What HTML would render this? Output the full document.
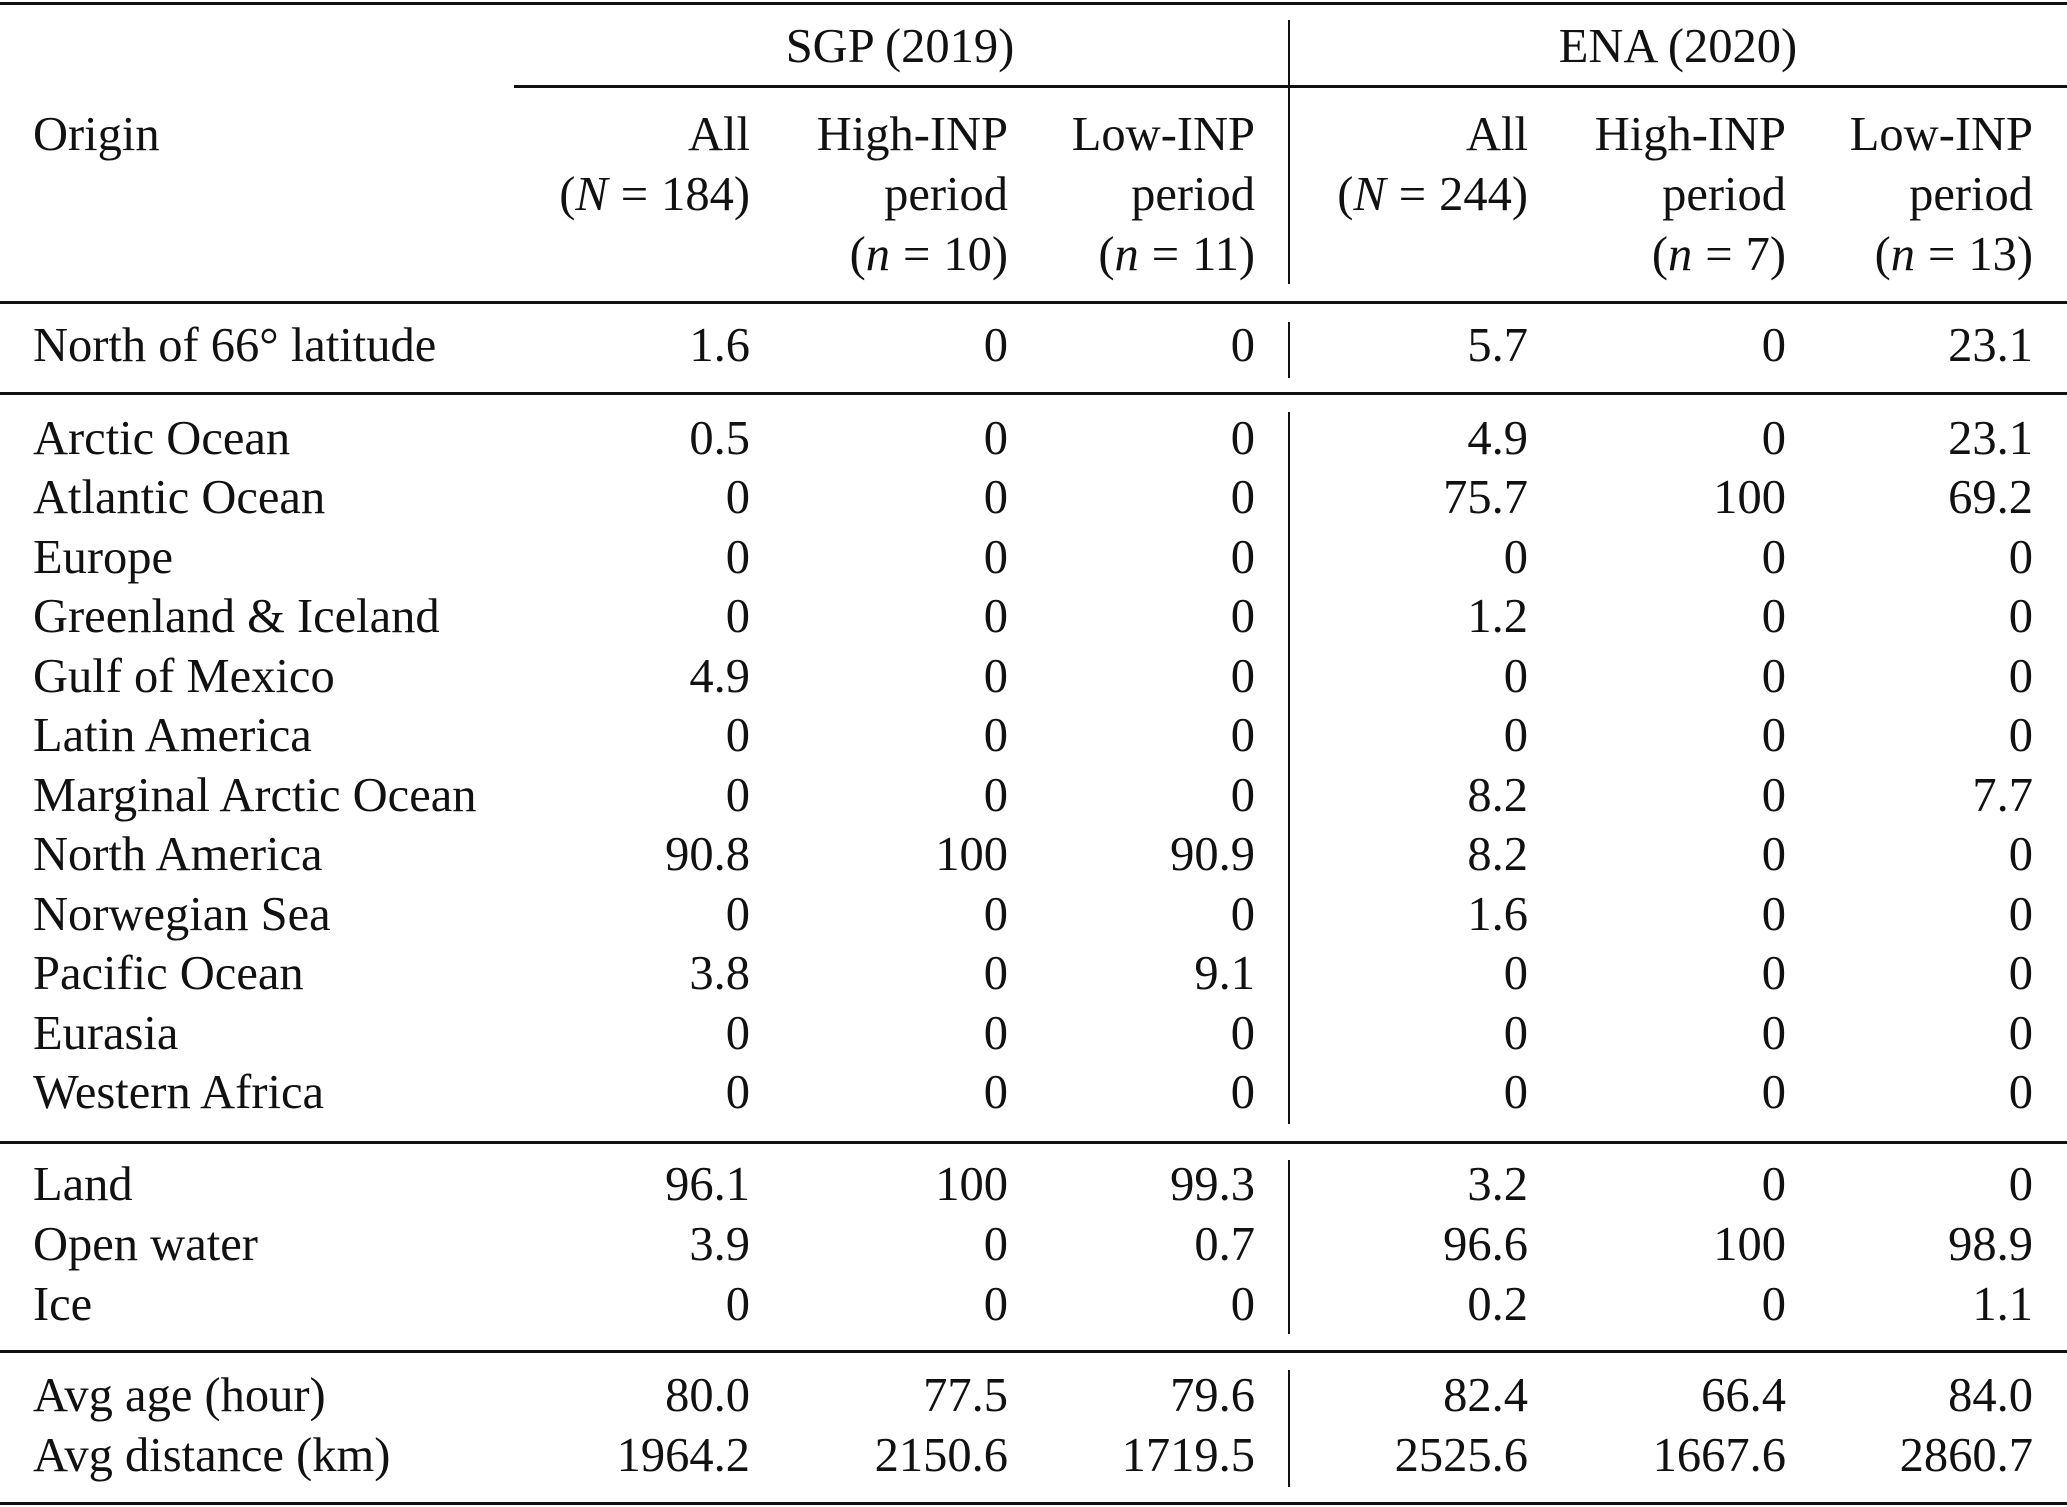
<!DOCTYPE html>
<html><head><meta charset="utf-8"><style>
html,body{margin:0;padding:0;background:#fff;}
#t{position:relative;width:2067px;height:1507px;overflow:hidden;font-family:"Liberation Serif","DejaVu Serif",serif;font-size:48.5px;color:#111;}
.tx{position:absolute;white-space:nowrap;line-height:1;}
.r{transform:translateX(-100%);}
.c{transform:translateX(-50%);}
.hr{position:absolute;height:2.5px;background:#111;}
.vr{position:absolute;width:2px;background:#111;}
i{font-style:italic;}
.eq{padding:0 13px;}
</style></head><body>
<div id="t"></div>
<script>
const rowLabels=["North of 66° latitude","Arctic Ocean","Atlantic Ocean","Europe","Greenland & Iceland","Gulf of Mexico","Latin America","Marginal Arctic Ocean","North America","Norwegian Sea","Pacific Ocean","Eurasia","Western Africa","Land","Open water","Ice","Avg age (hour)","Avg distance (km)"];
const rowValues=[
["1.6","0","0","5.7","0","23.1"],
["0.5","0","0","4.9","0","23.1"],
["0","0","0","75.7","100","69.2"],
["0","0","0","0","0","0"],
["0","0","0","1.2","0","0"],
["4.9","0","0","0","0","0"],
["0","0","0","0","0","0"],
["0","0","0","8.2","0","7.7"],
["90.8","100","90.9","8.2","0","0"],
["0","0","0","1.6","0","0"],
["3.8","0","9.1","0","0","0"],
["0","0","0","0","0","0"],
["0","0","0","0","0","0"],
["96.1","100","99.3","3.2","0","0"],
["3.9","0","0.7","96.6","100","98.9"],
["0","0","0","0.2","0","1.1"],
["80.0","77.5","79.6","82.4","66.4","84.0"],
["1964.2","2150.6","1719.5","2525.6","1667.6","2860.7"]];
const rowY=[345,438,497,557,616,676,735,795,854,914,973,1033,1092,1184,1244,1304,1395,1455];
const colX=[750,1008,1255,1528,1786,2033];
const T=document.getElementById('t');
function tx(html,x,y,cls){const d=document.createElement('div');d.className='tx '+(cls||'');d.style.left=x+'px';d.style.top=(y-23)+'px';d.innerHTML=html;T.appendChild(d);return d;}
function hr(x1,x2,y){const d=document.createElement('div');d.className='hr';d.style.left=x1+'px';d.style.width=(x2-x1)+'px';d.style.top=(y-1)+'px';


T.appendChild(d);}
function vr(y1,y2){const d=document.createElement('div');d.className='vr';d.style.left='1288px';d.style.top=y1+'px';d.style.height=(y2-y1)+'px';


T.appendChild(d);}
hr(0,2067,3);hr(514,2067,86);hr(0,2067,302);hr(0,2067,393);hr(0,2067,1142);hr(0,2067,1351);hr(0,2067,1503);
vr(20,284);vr(322,378);vr(412,1124);vr(1160,1334);vr(1370,1487);
let e;
e=tx("SGP (2019)",900,46,'c');


e=tx("ENA (2020)",1678,46,'c');


e=tx("Origin",33,134);


const hdr=[["All","(<i>N</i><span class=eq>=</span>184)",""],["High-INP","period","(<i>n</i><span class=eq>=</span>10)"],["Low-INP","period","(<i>n</i><span class=eq>=</span>11)"],["All","(<i>N</i><span class=eq>=</span>244)",""],["High-INP","period","(<i>n</i><span class=eq>=</span>7)"],["Low-INP","period","(<i>n</i><span class=eq>=</span>13)"]];
hdr.forEach((h,i)=>{h.forEach((l,j)=>{if(!l)return;e=tx(l,colX[i],134+j*60,'r');

});});
rowLabels.forEach((lab,r)=>{e=tx(lab,33,rowY[r]);


rowValues[r].forEach((v,c)=>{e=tx(v,colX[c],rowY[r],'r');

});});
</script>
</body></html>
